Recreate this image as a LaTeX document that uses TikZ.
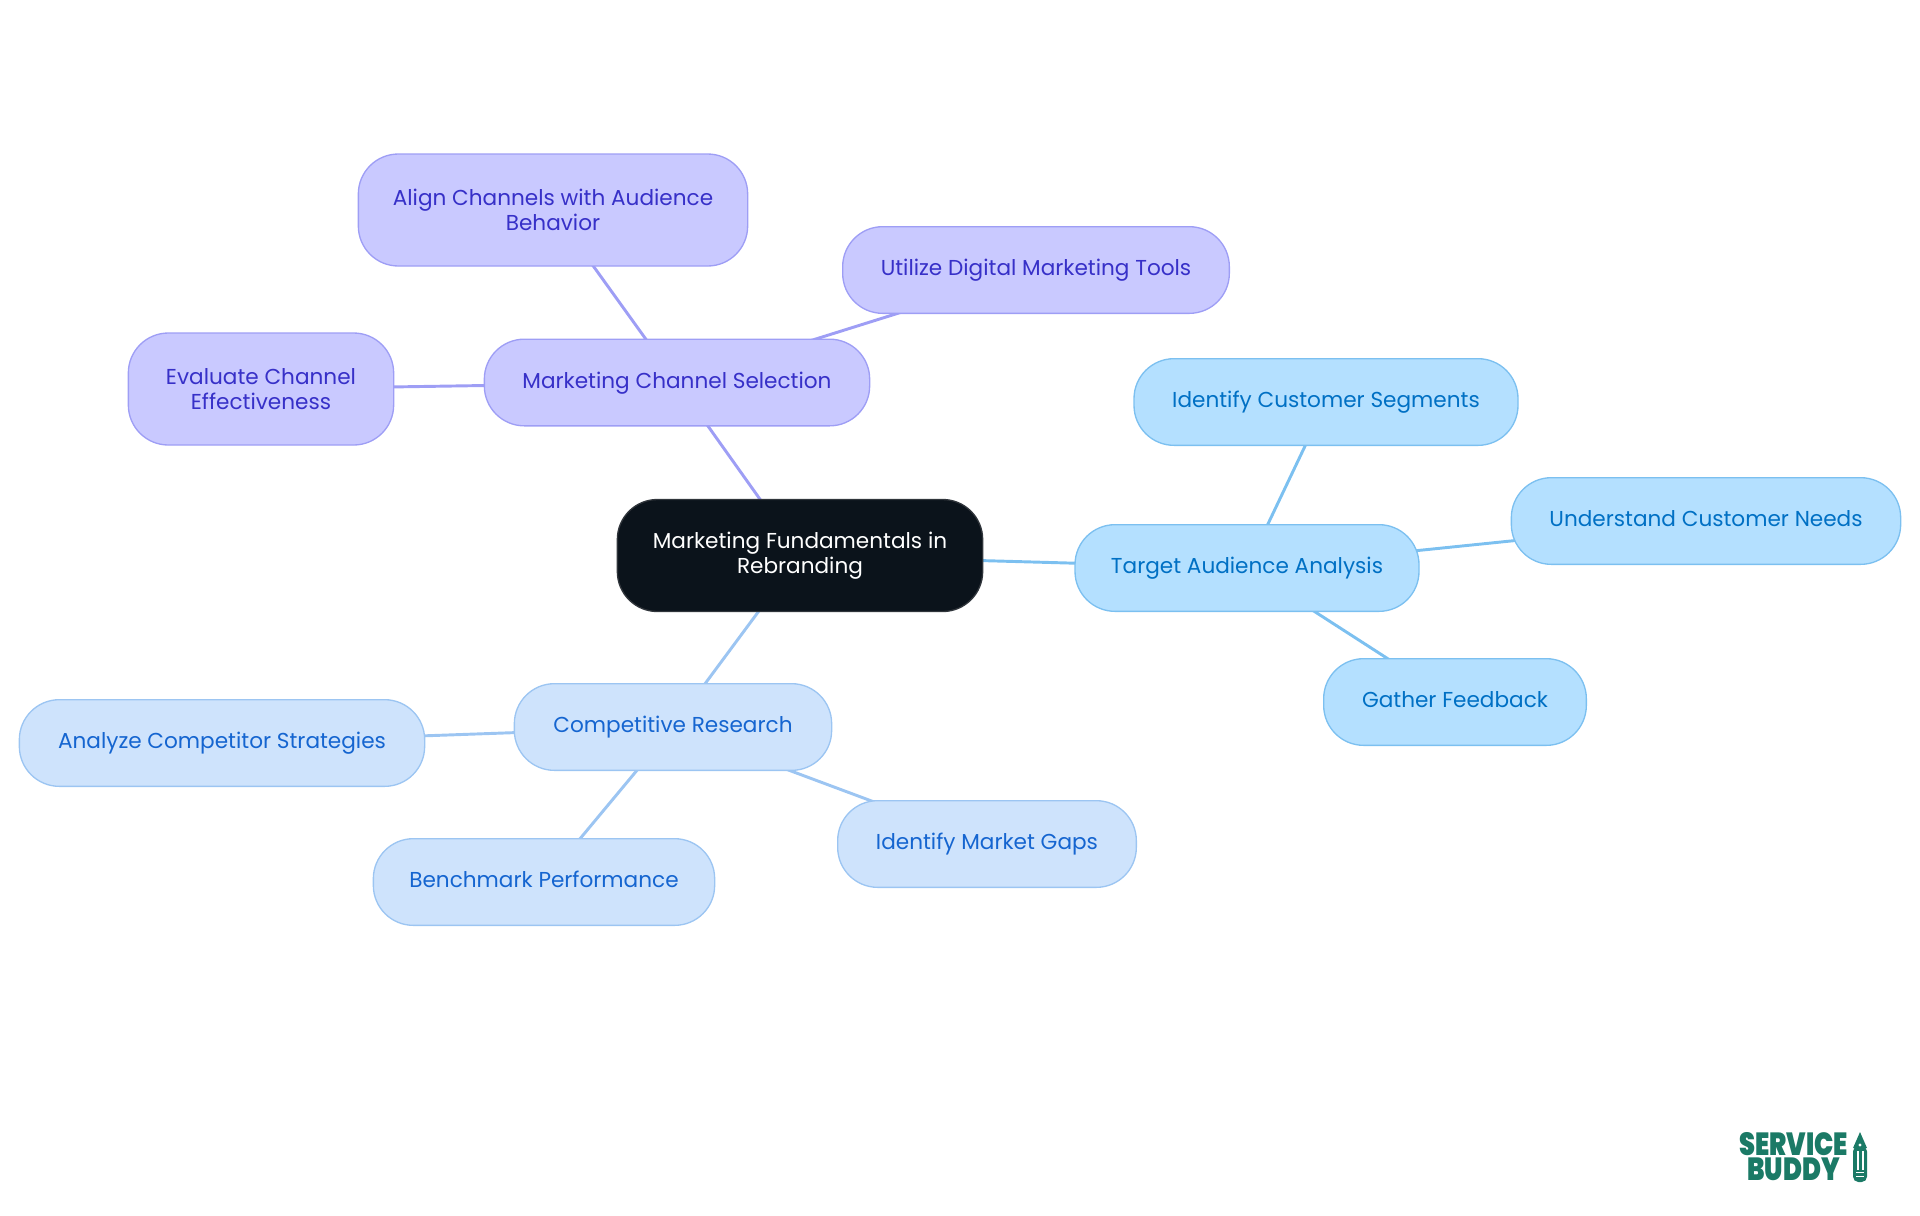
\documentclass[tikz,border=0pt]{standalone}
\usepackage{fontspec}
\setmainfont{Poppins}
\newfontfamily\logofont{Poppins Black}
\usetikzlibrary{backgrounds}
\definecolor{rootfill}{HTML}{0B131B}
\definecolor{rootline}{HTML}{30353B}
\definecolor{chanfill}{HTML}{C9C9FF}
\definecolor{chanline}{HTML}{9E9EF5}
\definecolor{chantext}{HTML}{3730C8}
\definecolor{audfill}{HTML}{B4E0FF}
\definecolor{audline}{HTML}{7CC0F0}
\definecolor{audtext}{HTML}{0070C4}
\definecolor{compfill}{HTML}{CEE3FC}
\definecolor{compline}{HTML}{9CC5F2}
\definecolor{comptext}{HTML}{1565D0}
\definecolor{logogreen}{HTML}{1B7A66}
\tikzset{
  topic/.style={draw,line width=1pt,rounded corners=30pt,inner sep=0pt,minimum height=65pt,align=center,
    font=\fontsize{16.2}{19}\selectfont},
  oneline/.style={text height=11.7pt,text depth=3pt},
  rootbox/.style={topic,fill=rootfill,draw=rootline,text=white,minimum height=84pt},
  chanbox/.style={topic,fill=chanfill,draw=chanline,text=chantext},
  audbox/.style={topic,oneline,fill=audfill,draw=audline,text=audtext},
  compbox/.style={topic,oneline,fill=compfill,draw=compline,text=comptext},
  chanedge/.style={draw=chanline,line width=2.2pt},
  audedge/.style={draw=audline,line width=2.2pt},
  compedge/.style={draw=compline,line width=2.2pt},
  logotext/.style={text=logogreen,inner sep=0pt,align=center,transform shape,xscale=0.8,font=\logofont\fontsize{24}{18.8}\selectfont}
}
\begin{document}
\begin{tikzpicture}[x=0.75pt,y=-0.75pt]
\useasboundingbox (0,0) rectangle (1920,1215);
\node[rootbox,minimum width=274pt] (root) at (800,555.5) {Marketing Fundamentals in\\Rebranding};
\node[chanbox,oneline,minimum width=289pt] (channel) at (677,382.5) {Marketing Channel Selection};
\node[chanbox,minimum width=292pt,minimum height=84pt] (align) at (553,210) {Align Channels with Audience\\Behavior};
\node[chanbox,oneline,minimum width=290pt] (digital) at (1036,270) {Utilize Digital Marketing Tools};
\node[chanbox,minimum width=199pt,minimum height=84pt] (evaluate) at (261,389) {Evaluate Channel\\Effectiveness};
\node[audbox,minimum width=258pt] (audience) at (1247,568) {Target Audience Analysis};
\node[audbox,minimum width=288pt] (segments) at (1326,402) {Identify Customer Segments};
\node[audbox,minimum width=292pt] (needs) at (1706,521) {Understand Customer Needs};
\node[audbox,minimum width=197pt] (feedback) at (1455,702) {Gather Feedback};
\node[compbox,minimum width=238pt] (research) at (673,727) {Competitive Research};
\node[compbox,minimum width=304pt] (strategies) at (222,743) {Analyze Competitor Strategies};
\node[compbox,minimum width=256pt] (benchmark) at (544,882) {Benchmark Performance};
\node[compbox,minimum width=224pt] (gaps) at (987,844) {Identify Market Gaps};
\begin{scope}[on background layer]
\draw[chanedge] (root.center) -- (channel.center);
\draw[chanedge] (channel.center) -- (align.center);
\draw[chanedge] (channel.center) -- (digital.center);
\draw[chanedge] (channel.center) -- (evaluate.center);
\draw[audedge] (root.center) -- (audience.center);
\draw[audedge] (audience.center) -- (segments.center);
\draw[audedge] (audience.center) -- (needs.center);
\draw[audedge] (audience.center) -- (feedback.center);
\draw[compedge] (root.center) -- (research.center);
\draw[compedge] (research.center) -- (strategies.center);
\draw[compedge] (research.center) -- (benchmark.center);
\draw[compedge] (research.center) -- (gaps.center);
\end{scope}
% logo
\node[logotext] (logo) at (1793.5,1157) {SERVICE\\BUDDY};
\fill[logogreen] (1860,1132) -- (1867,1148) -- (1853,1148) -- cycle;
\fill[logogreen,rounded corners=4pt] (1853,1146) rectangle (1867,1182);
\fill[white] (1860,1145) circle (1.7);
\fill[white] (1856.5,1151) rectangle (1858.5,1170);
\fill[white] (1861.5,1151) rectangle (1863.5,1170);
\fill[white] (1856,1172) rectangle (1864,1173.2);
\fill[white] (1856,1176) rectangle (1864,1177.2);
\end{tikzpicture}
\end{document}
